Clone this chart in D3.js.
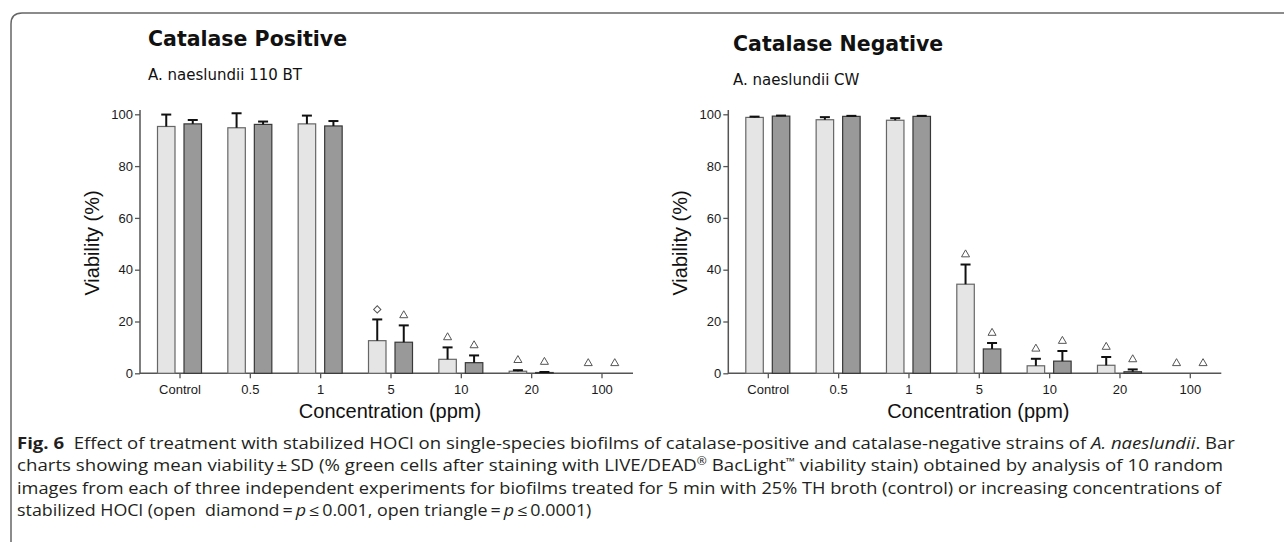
<!DOCTYPE html>
<meta charset="utf-8">
<style>

body {
  margin: 0;
  background: #fff;
}

svg {
  display: block;
}

.axis text {
  font-family: "Liberation Sans", Arial, sans-serif;
  font-size: 13px;
  fill: #1a1a1a;
}

.axis line {
  stroke: #555;
  stroke-width: 1.3;
}

.caption {
  font-family: "Open Sans", sans-serif;
  font-size: 15.5px;
  fill: #231f20;
  white-space: pre;
}

</style>
<svg></svg>
<script src="https://d3js.org/d3.v7.min.js"></script>
<script>

var width = 1284,
    height = 542;

var categories = ["Control", "0.5", "1", "5", "10", "20", "100"];
var yTicks = [0, 20, 40, 60, 80, 100];

// catalase positive, A. naeslundii 110 BT
var posLight   = [95.3, 94.8, 96.3, 12.6, 5.4, 0.8, 0];
var posLightSd = [4.6, 5.6, 3.2, 8.2, 4.6, 0.4, 0];
var posDark    = [96.3, 96.1, 95.5, 12.0, 4.1, 0.3, 0];
var posDarkSd  = [1.5, 1.1, 1.9, 6.5, 2.8, 0.2, 0];
var posLightSig = ["", "", "", "diamond", "triangle", "triangle", "triangle"];
var posDarkSig  = ["", "", "", "triangle", "triangle", "triangle", "triangle"];

// catalase negative, A. naeslundii CW
var negLight   = [98.8, 97.9, 97.7, 34.4, 2.9, 3.1, 0];
var negLightSd = [0.3, 1.0, 0.8, 7.6, 2.7, 3.2, 0];
var negDark    = [99.3, 99.2, 99.2, 9.4, 4.7, 0.6, 0];
var negDarkSd  = [0.2, 0.2, 0.2, 2.3, 3.9, 0.9, 0];
var negLightSig = ["", "", "", "triangle", "triangle", "triangle", "triangle"];
var negDarkSig  = ["", "", "", "triangle", "triangle", "triangle", "triangle"];

var panels = [
  {title: "Catalase Positive", strain: "A. naeslundii 110 BT", x0: 140, tx: 148, ty: 46,
   series: [{key: "light", mean: posLight, sd: posLightSd, sig: posLightSig},
            {key: "dark", mean: posDark, sd: posDarkSd, sig: posDarkSig}]},
  {title: "Catalase Negative", strain: "A. naeslundii CW", x0: 728.3, tx: 733, ty: 51,
   series: [{key: "light", mean: negLight, sd: negLightSd, sig: negLightSig},
            {key: "dark", mean: negDark, sd: negDarkSd, sig: negDarkSig}]}
];

var fills = {light: "#e5e5e5", dark: "#999999"},
    strokes = {light: "#666", dark: "#383838"};

var svg = d3.select("svg")
    .attr("width", width)
    .attr("height", height);

// figure frame
svg.append("path")
    .attr("d", "M11," + height + "V24Q11,13 22,13H" + width)
    .attr("fill", "none")
    .attr("stroke", "#666")
    .attr("stroke-width", 1.5);

var y = d3.scaleLinear()
    .domain([0, 100])
    .range([373.3, 114.3]);

var x1 = d3.scaleBand()
    .domain(["light", "dark"])
    .range([-22, 22])
    .paddingInner(0.34);

panels.forEach(drawPanel);

function drawPanel(p) {
  var g = svg.append("g");

  var x = d3.scalePoint()
      .domain(categories)
      .range([p.x0 + 39.5, p.x0 + 461.5]);

  g.append("text")
      .attr("x", p.tx)
      .attr("y", p.ty)
      .style("font-family", "'DejaVu Sans', sans-serif")
      .style("font-weight", "bold")
      .style("font-size", "20.5px")
      .attr("fill", "#111")
      .text(p.title);

  g.append("text")
      .attr("x", p.tx)
      .attr("y", p.ty + 34)
      .style("font-family", "'DejaVu Sans', sans-serif")
      .style("font-size", "15px")
      .attr("fill", "#111")
      .text(p.strain);

  var yAxis = g.append("g")
      .attr("class", "axis")
      .attr("transform", "translate(" + p.x0 + ",0)")
      .call(d3.axisLeft(y).tickValues(yTicks).tickSize(5).tickPadding(2));
  yAxis.select(".domain").remove();

  var xAxis = g.append("g")
      .attr("class", "axis")
      .attr("transform", "translate(0," + y(0) + ")")
      .call(d3.axisBottom(x).tickSize(5).tickPadding(6));
  xAxis.select(".domain").remove();

  g.append("path")
      .attr("d", "M" + p.x0 + ",110V" + y(0) + "H" + (p.x0 + 493))
      .attr("fill", "none")
      .attr("stroke", "#555")
      .attr("stroke-width", 1.5);

  g.append("text")
      .attr("transform", "translate(" + (p.x0 - 41) + "," + 243 + ") rotate(-90)")
      .attr("text-anchor", "middle")
      .style("font-family", "'Liberation Sans', Arial, sans-serif")
      .style("font-size", "20px")
      .attr("fill", "#111")
      .text("Viability (%)");

  g.append("text")
      .attr("x", p.x0 + 250)
      .attr("y", 418)
      .attr("text-anchor", "middle")
      .style("font-family", "'Liberation Sans', Arial, sans-serif")
      .style("font-size", "20px")
      .attr("fill", "#111")
      .text("Concentration (ppm)");

  p.series.forEach(function(s) {
    var rows = categories.map(function(c, i) {
      return {cat: c, mean: s.mean[i], sd: s.sd[i], sig: s.sig[i]};
    });
    var cx = function(d) { return x(d.cat) + x1(s.key) + x1.bandwidth() / 2; };

    g.append("g").selectAll("rect")
        .data(rows.filter(function(d) { return d.mean > 0; }))
      .enter().append("rect")
        .attr("x", function(d) { return x(d.cat) + x1(s.key); })
        .attr("y", function(d) { return y(d.mean); })
        .attr("width", x1.bandwidth())
        .attr("height", function(d) { return y(0) - y(d.mean); })
        .attr("fill", fills[s.key])
        .attr("stroke", strokes[s.key])
        .attr("stroke-width", 1.2);

    var err = g.append("g").selectAll("g")
        .data(rows.filter(function(d) { return d.sd > 0; }))
      .enter().append("g")
        .attr("stroke", "#111")
        .attr("stroke-width", 2);

    err.append("line")
        .attr("x1", cx).attr("x2", cx)
        .attr("y1", function(d) { return y(d.mean); })
        .attr("y2", function(d) { return y(d.mean + d.sd); });

    err.append("line")
        .attr("x1", function(d) { return cx(d) - 5; })
        .attr("x2", function(d) { return cx(d) + 5; })
        .attr("y1", function(d) { return y(d.mean + d.sd); })
        .attr("y2", function(d) { return y(d.mean + d.sd); });

    g.append("g").selectAll("path")
        .data(rows.filter(function(d) { return d.sig; }))
      .enter().append("path")
        .attr("transform", function(d) {
          var t = "translate(" + cx(d) + "," + (y(d.mean + d.sd) - 10) + ")";
          return d.sig == "diamond" ? t + " rotate(45)" : t;
        })
        .attr("d", function(d) {
          return d.sig == "diamond"
            ? d3.symbol().type(d3.symbolSquare).size(26)()
            : d3.symbol().type(d3.symbolTriangle).size(28)();
        })
        .attr("fill", "none")
        .attr("stroke", "#555")
        .attr("stroke-width", 1);
  });
}

// caption
var captionLines = [
  {w: 1219, parts: [["Fig. 6", "b"], ["  Effect of treatment with stabilized HOCl on single-species biofilms of catalase-positive and catalase-negative strains of "], ["A. naeslundii", "i"], [". Bar"]]},
  {w: 1207, parts: [["charts showing mean viability\u2009\u00b1\u2009SD (% green cells after staining with LIVE/DEAD"], ["\u00ae", "sup"], [" BacLight"], ["\u2122", "sup"], [" viability stain) obtained by analysis of 10 random"]]},
  {w: 1205, parts: [["images from each of three independent experiments for biofilms treated for 5 min with 25% TH broth (control) or increasing concentrations of"]]},
  {w: 575, parts: [["stabilized HOCl (open  diamond\u2009=\u2009"], ["p", "i"], ["\u2009\u2264\u20090.001, open triangle\u2009=\u2009"], ["p", "i"], ["\u2009\u2264\u20090.0001)"]]}
];

captionLines.forEach(function(line, i) {
  var t = svg.append("text")
      .attr("class", "caption");
  line.parts.forEach(function(part) {
    var ts = t.append("tspan").text(part[0]);
    if (part[1] == "b") ts.style("font-weight", "bold");
    if (part[1] == "i") ts.style("font-style", "italic");
    if (part[1] == "sup") ts.attr("baseline-shift", "super").style("font-size", "10px");
  });
  var len = t.node().getComputedTextLength();
  t.attr("transform", "translate(17," + (449 + i * 22.4) + ") scale(" + (line.w / len) + ",1)");
});

</script>
